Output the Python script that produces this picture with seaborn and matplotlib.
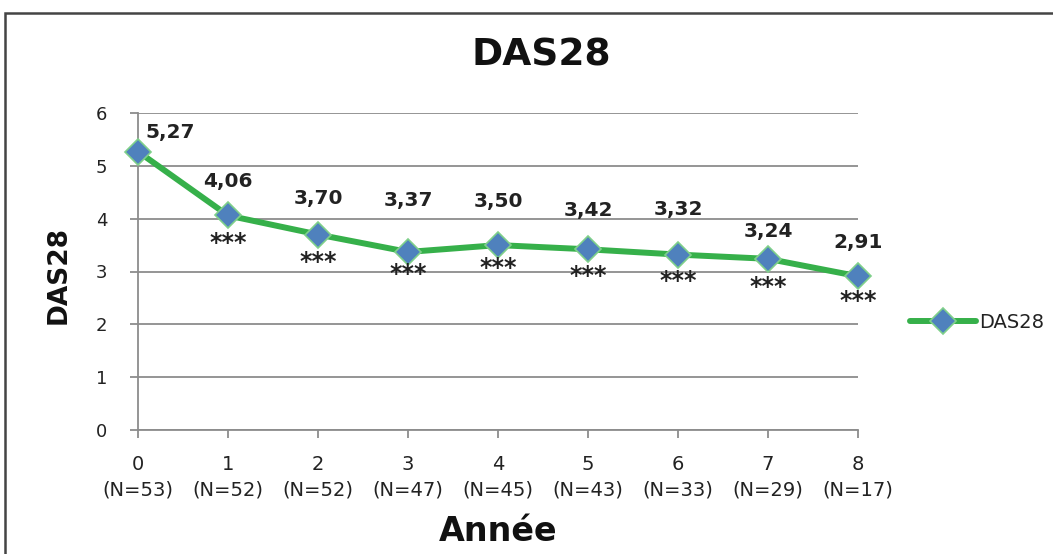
import matplotlib
matplotlib.use("Agg")
import matplotlib.pyplot as plt
import seaborn as sns
import pandas as pd
from matplotlib.patches import Rectangle

# ---- data ----
years = [0, 1, 2, 3, 4, 5, 6, 7, 8]
n_patients = [53, 52, 52, 47, 45, 43, 33, 29, 17]
das28 = [5.27, 4.06, 3.70, 3.37, 3.50, 3.42, 3.32, 3.24, 2.91]
signif = ["", "***", "***", "***", "***", "***", "***", "***", "***"]
y_ticks = [0, 1, 2, 3, 4, 5, 6]

# ---- label placement (pixels) ----
label_dx = [32, 0, 0, 0, 0, 0, 0, 0, 0]
label_dy = [19, 34, 36, 51, 44, 39, 45, 27, 34]
star_dy = [0, 24, 23, 18, 19, 23, 22, 24, 21]

sns.set_theme(style="white")
plt.rcParams["font.family"] = ["DejaVu Sans"]

LINE = "#36b04a"
MARK = "#4f81bd"
GRID = "#8c8c8c"

df = pd.DataFrame({"Année": years, "DAS28": das28})

fig = plt.figure(figsize=(10.53, 5.54), dpi=100)
ax = fig.add_axes([138 / 1053, 1 - 430 / 554, 720 / 1053, 317 / 554])

sns.lineplot(data=df, x="Année", y="DAS28", ax=ax, color=LINE, linewidth=4.3,
             marker="D", markersize=13, markerfacecolor=MARK,
             markeredgecolor="#7fd08a", markeredgewidth=1.2,
             label="DAS28", clip_on=False, zorder=5)

ax.set_xlim(0, 8)
ax.set_ylim(0, 6)
ax.set_yticks(y_ticks)
ax.set_yticklabels([str(v) for v in y_ticks], fontsize=13, color="#222222")
ax.set_xticks(years)
ax.set_xticklabels([f"{y}\n(N={n})" for y, n in zip(years, n_patients)],
                   fontsize=14, color="#222222", linespacing=1.45)

ax.grid(axis="y", color=GRID, linewidth=1.3)
ax.grid(axis="x", visible=False)
for s in ["top", "right"]:
    ax.spines[s].set_visible(False)
for s in ["left", "bottom"]:
    ax.spines[s].set_color(GRID)
    ax.spines[s].set_linewidth(1.3)
ax.tick_params(axis="both", which="major", direction="out", length=6,
               width=1.3, color=GRID, left=True, bottom=True)
ax.tick_params(axis="y", pad=16)
ax.tick_params(axis="x", pad=12)

ax.set_xlabel("Année", fontsize=24, fontweight="bold", color="#111111")
ax.xaxis.set_label_coords(0.5, -0.268)
ax.set_ylabel("DAS28", fontsize=19, fontweight="bold", color="#111111")
ax.yaxis.set_label_coords(-0.092, 0.49)

for i, (x, v) in enumerate(zip(years, das28)):
    ax.annotate(f"{v:.2f}".replace(".", ","), (x, v),
                xytext=(label_dx[i], label_dy[i]), textcoords="offset pixels",
                ha="center", va="center", fontsize=14.5, fontweight="bold",
                color="#222222", annotation_clip=False, zorder=6)
    if signif[i]:
        ax.annotate(signif[i], (x, v), xytext=(0, -star_dy[i] - 4),
                    textcoords="offset pixels", ha="center", va="center",
                    fontsize=17, fontweight="bold", color="#222222",
                    annotation_clip=False, zorder=6)

fig.text(541 / 1053, 1 - 55 / 554, "DAS28", ha="center", va="center",
         fontsize=27, fontweight="bold", color="#111111")

leg = ax.legend(loc="center left", bbox_to_anchor=(910 / 1053, 1 - 322 / 554),
                bbox_transform=fig.transFigure, frameon=False, fontsize=14,
                handlelength=3.4, handletextpad=0.15, borderpad=0, borderaxespad=0)
for t in leg.get_texts():
    t.set_color("#222222")

fig.patches.append(Rectangle((5 / 1053, -0.05), 1.2, 1 - 13 / 554 + 0.05,
                             transform=fig.transFigure, fill=False,
                             edgecolor="#444444", linewidth=1.8))

fig.savefig("out.png", dpi=100)
